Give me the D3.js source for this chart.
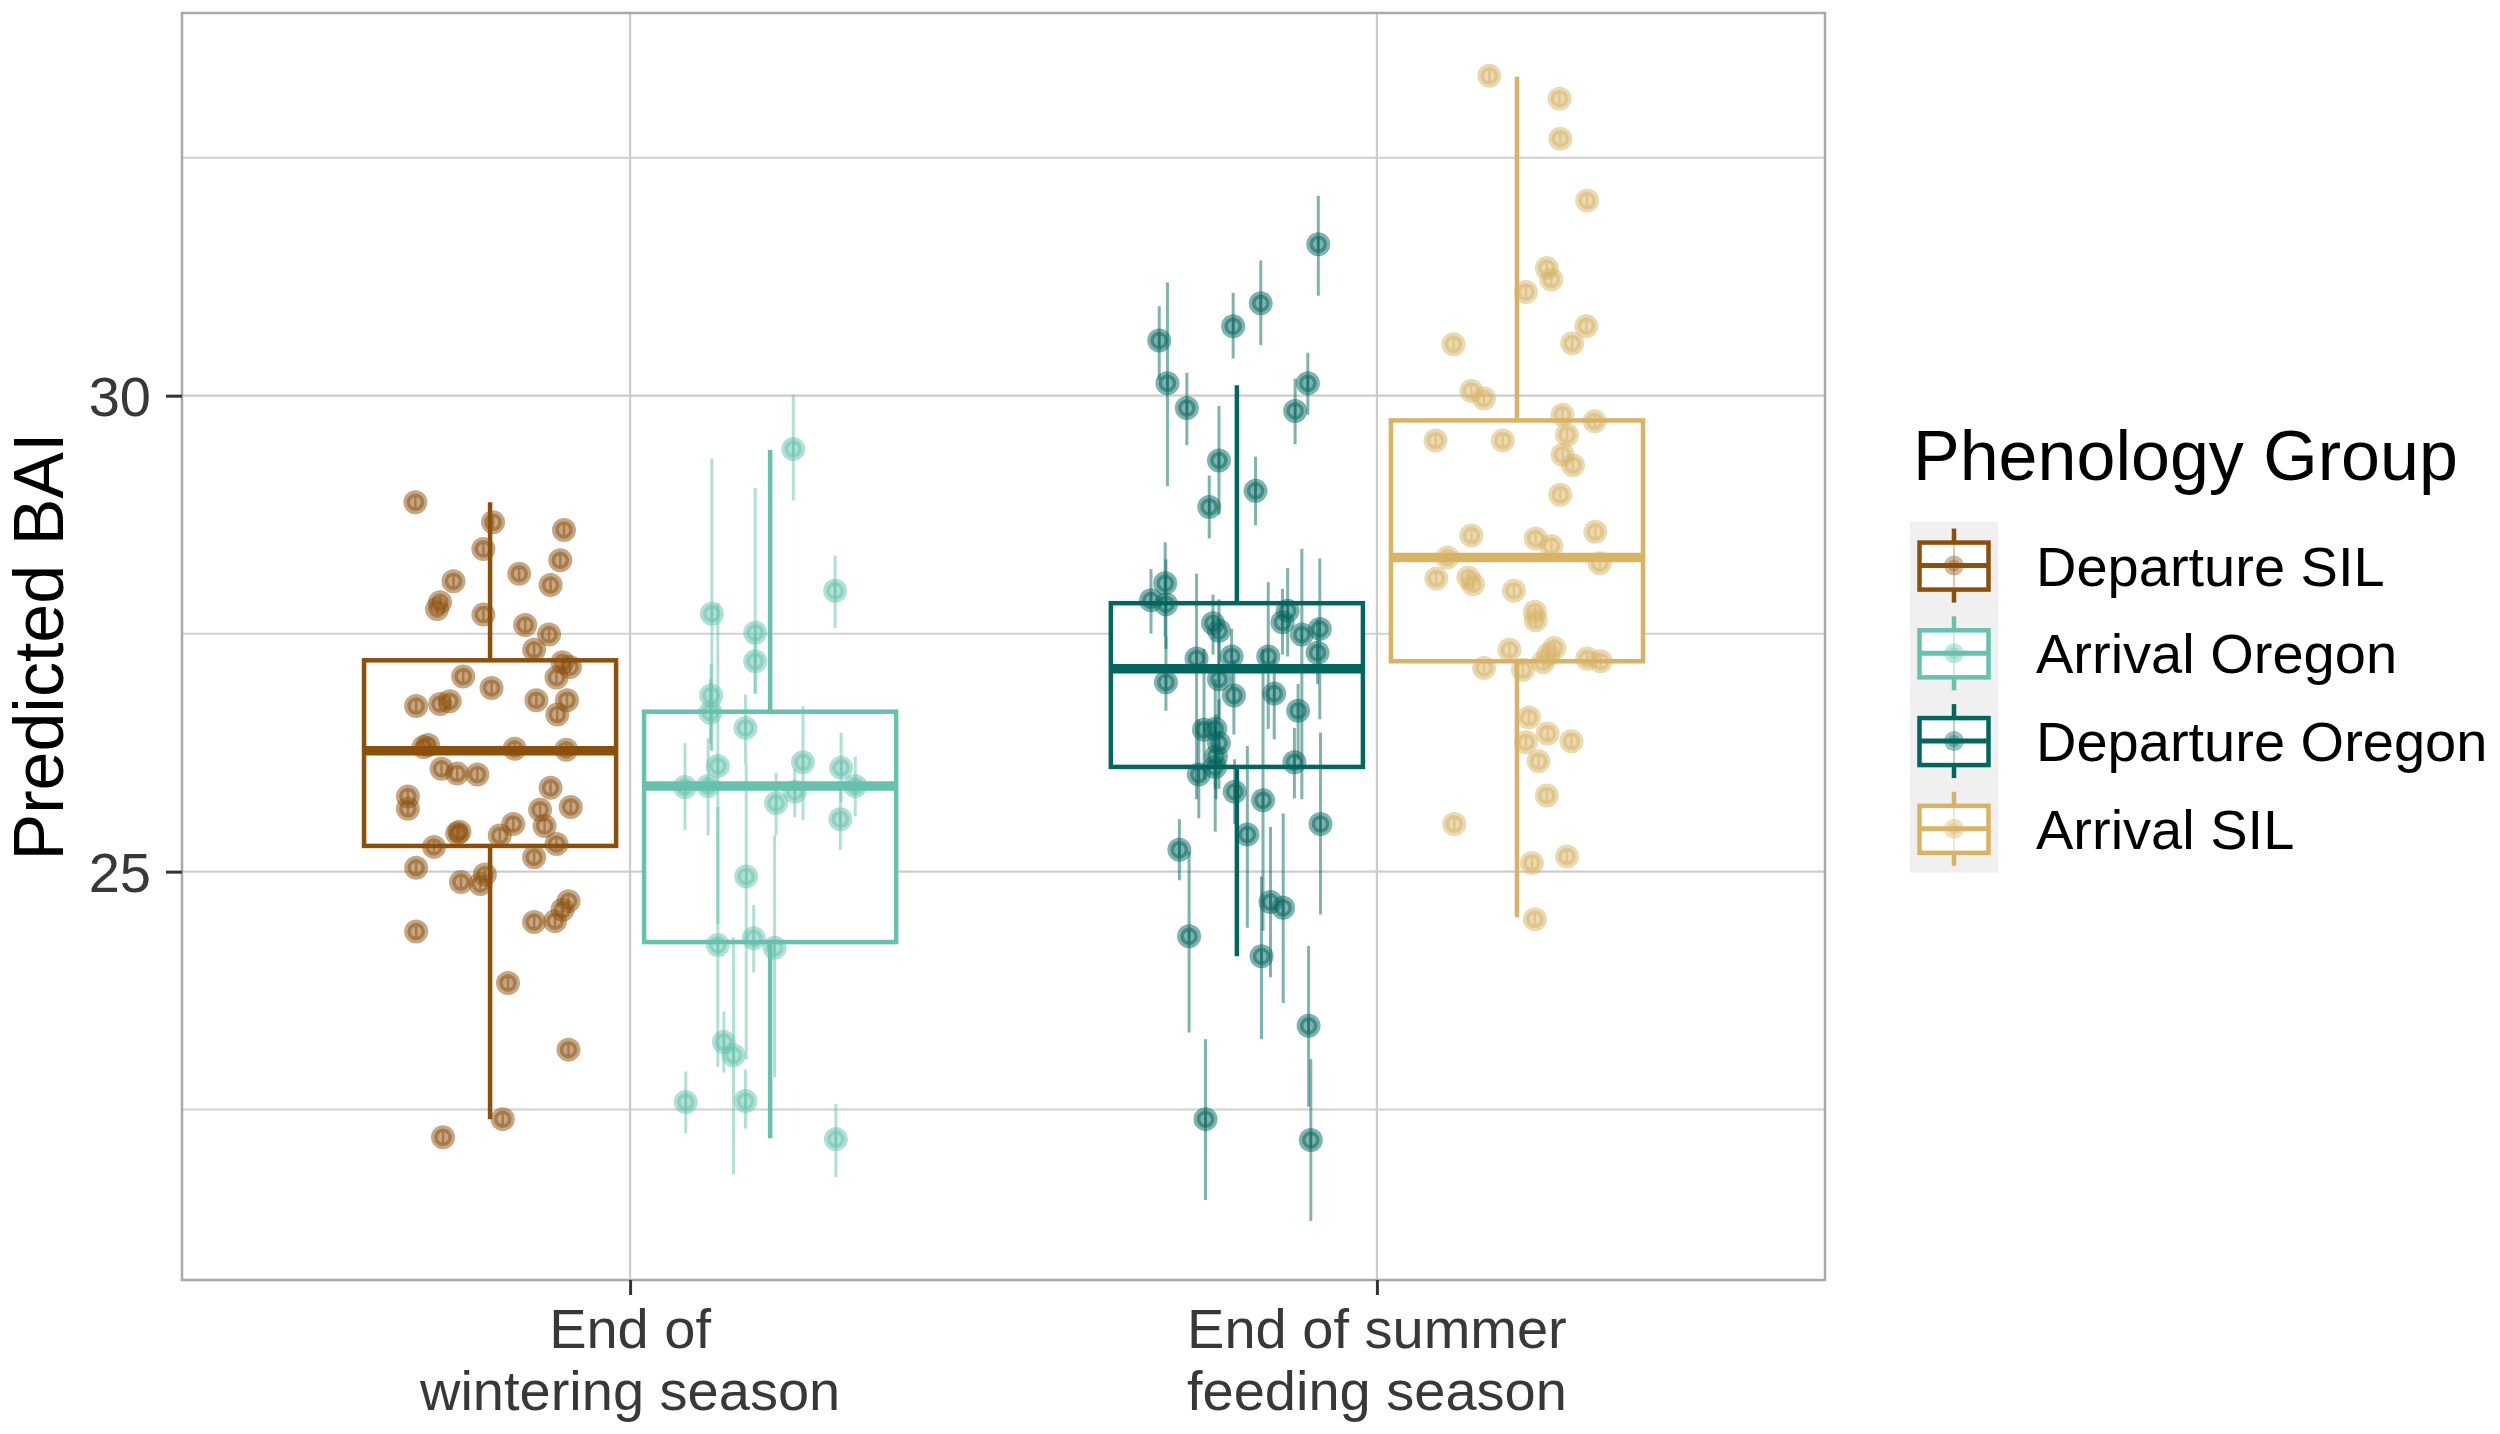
<!DOCTYPE html>
<html lang="en">
<head>
    <meta charset="UTF-8">
    <title>Predicted BAI by phenology group</title>
    <script src="https://d3js.org/d3.v7.min.js"></script>
    <style>
        body {
            margin: 0;
            background: #fff;
        }
        svg {
            font-family: "Liberation Sans", Arial, sans-serif;
        }
        .tick text {
            fill: #383838;
            font-size: 56px;
        }
        .tick line {
            stroke: #333;
            stroke-width: 3;
        }
    </style>
</head>
<body>
<div id="container"></div>
<script>

    // categories and groups
    const categories = ["wintering", "summer"];
    const categoryLabels = [["End of", "wintering season"], ["End of summer", "feeding season"]];
    const groups = ["Departure SIL", "Arrival Oregon", "Departure Oregon", "Arrival SIL"];
    const groupCategory = ["wintering", "wintering", "summer", "summer"];
    const groupSlot = [0, 1, 0, 1];
    const groupColors = ["#8c4f0c", "#66c2ae", "#01665e", "#d8b365"];

    // box statistics: lower whisker, Q1, median, Q3, upper whisker
    const boxLow = [22.40, 22.20, 24.11, 24.52];
    const boxQ1 = [25.27, 24.26, 26.10, 27.21];
    const boxMedian = [26.27, 25.90, 27.13, 28.30];
    const boxQ3 = [27.22, 26.68, 27.82, 29.74];
    const boxHigh = [28.88, 29.43, 30.11, 33.35];

    // Departure SIL points
    const depSilValues = [28.88,28.67,28.59,28.39,28.27,28.13,28.05,28.01,27.83,27.76,27.70,27.59,27.49,27.33,27.20,27.15,27.04,27.05,26.93,26.74,26.76,26.79,26.80,26.80,26.65,26.31,26.33,26.29,26.28,26.08,26.03,26.02,25.79,25.66,25.88,25.65,25.68,25.48,25.50,25.42,25.40,25.38,25.26,25.29,25.15,25.04,24.89,24.87,24.97,24.69,24.60,24.48,24.47,24.37,23.83,23.13,22.40,22.21];
    const depSilJitter = [-0.100,0.004,0.099,-0.009,0.094,0.039,-0.049,0.081,-0.067,-0.071,-0.009,0.047,0.079,0.059,0.097,0.107,0.089,-0.036,0.002,-0.099,-0.067,-0.054,0.062,0.103,0.090,-0.089,-0.083,0.033,0.102,-0.065,-0.044,-0.017,-0.110,-0.110,0.081,0.067,0.108,0.073,0.031,-0.041,-0.044,0.013,-0.075,0.089,0.059,-0.099,-0.039,-0.013,-0.007,0.105,0.097,0.087,0.059,-0.099,0.024,0.105,0.017,-0.063];

    // Arrival Oregon points with intervals
    const arrOrValues = [29.44,27.95,27.71,27.51,27.21,26.85,26.67,26.51,26.11,25.89,25.90,26.15,25.84,25.72,26.09,25.90,25.55,24.95,24.23,24.30,24.20,23.21,23.07,22.58,22.59,22.19];
    const arrOrLow = [28.90,27.56,26.27,26.87,26.87,26.27,26.34,26.13,24.45,25.44,25.38,25.54,25.57,25.38,25.73,25.58,25.23,23.03,22.95,23.94,22.84,22.89,21.82,22.25,22.30,21.79];
    const arrOrHigh = [30.01,28.32,29.34,29.03,27.49,27.18,27.02,26.86,27.82,26.35,26.40,26.74,26.08,26.04,26.46,26.21,25.89,26.13,25.68,24.65,25.38,23.53,24.31,22.90,22.92,22.56];
    const arrOrJitter = [0.031,0.087,-0.078,-0.020,-0.020,-0.079,-0.080,-0.033,-0.070,-0.114,-0.083,0.044,0.033,0.008,0.095,0.114,0.094,-0.032,-0.070,-0.022,0.006,-0.062,-0.049,-0.113,-0.033,0.088];

    // Departure Oregon points with intervals
    const depOrValues = [31.59,30.97,30.73,30.58,30.13,29.87,30.13,29.84,29.32,28.83,29.00,28.03,27.85,27.81,27.61,27.53,27.24,27.26,27.26,27.62,27.74,27.49,27.55,27.30,26.99,27.02,26.85,26.87,26.69,26.49,26.50,26.35,26.21,26.10,26.02,26.15,25.84,25.75,25.39,25.50,25.23,24.68,24.62,24.32,24.11,23.38,22.40,22.18];
    const depOrLow = [31.05,30.53,30.39,30.17,29.05,29.48,29.80,29.49,28.75,28.50,28.64,27.47,27.50,27.34,27.28,27.18,25.76,26.92,26.50,27.28,27.26,25.76,26.60,26.97,26.69,26.60,26.44,26.39,26.18,25.97,25.87,25.87,25.76,25.42,25.56,25.77,25.50,24.38,24.41,24.55,24.91,23.89,23.62,23.31,23.24,22.53,21.55,21.33];
    const depOrHigh = [32.10,31.42,31.08,30.94,31.19,30.24,30.45,30.18,29.89,29.16,29.36,28.46,28.18,28.28,27.91,27.86,28.13,27.55,28.04,27.97,28.19,28.39,28.29,27.65,27.47,27.44,27.23,27.23,26.97,27.34,27.02,26.81,26.65,26.60,26.60,26.51,26.18,27.34,26.32,26.46,25.55,25.47,25.61,25.21,24.95,24.22,23.24,23.03];
    const depOrJitter = [0.109,0.032,-0.005,-0.104,-0.093,-0.067,0.095,0.078,-0.024,-0.037,0.025,-0.096,-0.115,-0.095,-0.032,-0.024,-0.054,-0.007,0.042,0.061,0.068,0.087,0.111,0.108,-0.095,-0.024,-0.004,0.050,0.082,-0.044,-0.029,-0.024,-0.028,-0.029,-0.051,0.077,-0.003,0.035,0.014,0.112,-0.077,0.045,0.062,-0.064,0.033,0.096,-0.042,0.099];

    // Arrival SIL points
    const arrSilValues = [33.36,33.12,32.70,32.05,31.34,31.22,31.09,30.73,30.55,30.54,30.05,29.97,29.80,29.73,29.59,29.53,29.53,29.38,29.27,28.96,28.53,28.50,28.42,28.57,28.30,28.24,28.08,28.09,28.02,27.95,27.73,27.64,27.33,27.35,27.28,27.20,27.24,27.21,27.14,27.12,26.62,26.45,26.36,26.37,26.16,25.80,25.50,25.16,25.09,24.50];
    const arrSilJitter = [-0.037,0.057,0.058,0.094,0.040,0.046,0.012,0.093,0.074,-0.085,-0.061,-0.044,0.061,0.104,0.067,-0.109,-0.019,0.061,0.075,0.058,-0.061,0.025,0.046,0.105,-0.093,0.111,-0.108,-0.065,-0.059,-0.004,0.024,0.025,-0.010,0.050,0.042,0.035,0.094,0.112,-0.044,0.008,0.016,0.041,0.012,0.073,0.029,0.040,-0.084,0.067,0.020,0.024];

    // y axis ticks
    const yTicks = [25, 30];
    const yMinorTicks = [22.5, 27.5, 32.5];

    // point tables per group
    const pointSets = [
        depSilValues.map((v, i) => ({ g: 0, v: v, j: depSilJitter[i] })),
        arrOrValues.map((v, i) => ({ g: 1, v: v, j: arrOrJitter[i], lo: arrOrLow[i], hi: arrOrHigh[i] })),
        depOrValues.map((v, i) => ({ g: 2, v: v, j: depOrJitter[i], lo: depOrLow[i], hi: depOrHigh[i] })),
        arrSilValues.map((v, i) => ({ g: 3, v: v, j: arrSilJitter[i] }))
    ];

    const width = 2500, height = 1434;
    const panel = { left: 182, right: 1825, top: 13, bottom: 1280 };

    const svg = d3.select('#container').append('svg')
        .attr('width', width)
        .attr('height', height);

    const x = d3.scalePoint()
        .domain(categories)
        .range([panel.left, panel.right])
        .padding(0.6);

    const step = x.step();

    const dodge = d3.scaleBand()
        .domain([0, 1])
        .range([-0.375 * step, 0.375 * step])
        .paddingInner(0.1)
        .paddingOuter(0.05);

    const y = d3.scaleLinear()
        .domain([20.71, 34.02])
        .range([panel.bottom, panel.top]);

    const groupX = g => x(groupCategory[g]) + dodge(groupSlot[g]) + dodge.bandwidth() / 2;

    // grid lines
    svg.append('g').selectAll('line')
        .data(yMinorTicks)
        .enter()
        .append('line')
        .attr('x1', panel.left).attr('x2', panel.right)
        .attr('y1', d => y(d)).attr('y2', d => y(d))
        .attr('stroke', '#d0d0d0')
        .attr('stroke-width', 2);

    svg.append('g').selectAll('line')
        .data(yTicks)
        .enter()
        .append('line')
        .attr('x1', panel.left).attr('x2', panel.right)
        .attr('y1', d => y(d)).attr('y2', d => y(d))
        .attr('stroke', '#cccccc')
        .attr('stroke-width', 2.2);

    svg.append('g').selectAll('line')
        .data(categories)
        .enter()
        .append('line')
        .attr('x1', d => x(d)).attr('x2', d => x(d))
        .attr('y1', panel.top).attr('y2', panel.bottom)
        .attr('stroke', '#cccccc')
        .attr('stroke-width', 2.2);

    // boxplots
    const boxes = svg.append('g').selectAll('g')
        .data(groups)
        .enter()
        .append('g');

    boxes.append('line')
        .attr('x1', (d, i) => groupX(i)).attr('x2', (d, i) => groupX(i))
        .attr('y1', (d, i) => y(boxHigh[i])).attr('y2', (d, i) => y(boxLow[i]))
        .attr('stroke', (d, i) => groupColors[i])
        .attr('stroke-width', 4.5);

    boxes.append('rect')
        .attr('x', (d, i) => groupX(i) - dodge.bandwidth() / 2)
        .attr('width', dodge.bandwidth())
        .attr('y', (d, i) => y(boxQ3[i]))
        .attr('height', (d, i) => y(boxQ1[i]) - y(boxQ3[i]))
        .attr('fill', '#fff')
        .attr('stroke', (d, i) => groupColors[i])
        .attr('stroke-width', 4.5);

    boxes.append('line')
        .attr('x1', (d, i) => groupX(i) - dodge.bandwidth() / 2)
        .attr('x2', (d, i) => groupX(i) + dodge.bandwidth() / 2)
        .attr('y1', (d, i) => y(boxMedian[i])).attr('y2', (d, i) => y(boxMedian[i]))
        .attr('stroke', (d, i) => groupColors[i])
        .attr('stroke-width', 9.5);

    // draw one jittered point marker
    function drawMarker(sel, color) {
        sel.append('circle')
            .attr('r', 12)
            .attr('fill', color)
            .attr('fill-opacity', 0.5);
        sel.append('circle')
            .attr('r', 7)
            .attr('fill', 'none')
            .attr('stroke', color)
            .attr('stroke-opacity', 0.5)
            .attr('stroke-width', 3.5);
        sel.append('line')
            .attr('y1', -5.5).attr('y2', 5.5)
            .attr('stroke', color)
            .attr('stroke-opacity', 0.5)
            .attr('stroke-width', 2.5);
    }

    pointSets.forEach(set => {
        const layer = svg.append('g');
        const color = d => groupColors[d.g];

        // interval lines where available
        layer.selectAll('line.range')
            .data(set.filter(d => d.lo !== undefined))
            .enter()
            .append('line')
            .attr('class', 'range')
            .attr('x1', d => groupX(d.g) + d.j * step)
            .attr('x2', d => groupX(d.g) + d.j * step)
            .attr('y1', d => y(d.hi))
            .attr('y2', d => y(d.lo))
            .attr('stroke', color)
            .attr('stroke-opacity', 0.5)
            .attr('stroke-width', 3);

        layer.selectAll('g.pt')
            .data(set)
            .enter()
            .append('g')
            .attr('class', 'pt')
            .attr('transform', d => `translate(${groupX(d.g) + d.j * step},${y(d.v)})`)
            .each(function(d) { drawMarker(d3.select(this), groupColors[d.g]); });
    });

    // panel border
    svg.append('rect')
        .attr('x', panel.left).attr('y', panel.top)
        .attr('width', panel.right - panel.left)
        .attr('height', panel.bottom - panel.top)
        .attr('fill', 'none')
        .attr('stroke', '#a9a9a9')
        .attr('stroke-width', 2.5);

    // y axis
    const yAxis = svg.append('g')
        .attr('transform', `translate(${panel.left},0)`)
        .call(d3.axisLeft(y).tickValues(yTicks).tickSize(16).tickPadding(15));
    yAxis.select('.domain').remove();
    yAxis.selectAll('.tick text').attr('dy', '0.36em');

    // x axis
    const xAxis = svg.append('g')
        .attr('transform', `translate(0,${panel.bottom})`)
        .call(d3.axisBottom(x).tickSize(15).tickFormat(''));
    xAxis.select('.domain').remove();

    const xLabels = svg.append('g').selectAll('text')
        .data(categories)
        .enter()
        .append('text')
        .attr('text-anchor', 'middle')
        .attr('fill', '#383838')
        .attr('font-size', 56);

    xLabels.selectAll('tspan')
        .data((d, i) => categoryLabels[i].map(t => ({ t: t, c: d })))
        .enter()
        .append('tspan')
        .attr('x', d => x(d.c))
        .attr('y', (d, i) => 1348 + i * 62)
        .text(d => d.t);

    // y axis title
    svg.append('text')
        .attr('transform', `translate(63,${(panel.top + panel.bottom) / 2}) rotate(-90)`)
        .attr('text-anchor', 'middle')
        .attr('font-size', 70)
        .attr('fill', '#000')
        .text('Predicted BAI');

    // legend
    const legend = svg.append('g');
    const keyX = 1910, keyTop = 521.7, keyH = 87.75, keyW = 88;

    legend.append('text')
        .attr('x', 1913)
        .attr('y', 480)
        .attr('font-size', 70)
        .attr('fill', '#000')
        .text('Phenology Group');

    legend.append('rect')
        .attr('x', keyX).attr('y', keyTop)
        .attr('width', keyW).attr('height', keyH * groups.length)
        .attr('fill', '#f0f0f0');

    const keys = legend.selectAll('g.key')
        .data(groups)
        .enter()
        .append('g')
        .attr('class', 'key')
        .attr('transform', (d, i) => `translate(${keyX + keyW / 2},${keyTop + keyH * (i + 0.5)})`);

    keys.append('line')
        .attr('y1', -37).attr('y2', 37)
        .attr('stroke', (d, i) => groupColors[i])
        .attr('stroke-width', 4.5);

    keys.append('rect')
        .attr('x', -34.5).attr('width', 69)
        .attr('y', -23).attr('height', 47)
        .attr('fill', '#fff')
        .attr('stroke', (d, i) => groupColors[i])
        .attr('stroke-width', 4.5);

    keys.append('line')
        .attr('x1', -34.5).attr('x2', 34.5)
        .attr('stroke', (d, i) => groupColors[i])
        .attr('stroke-width', 5);

    keys.append('line')
        .attr('y1', -21).attr('y2', 22)
        .attr('stroke', (d, i) => groupColors[i])
        .attr('stroke-opacity', 0.3)
        .attr('stroke-width', 2);

    keys.append('circle')
        .attr('r', 10)
        .attr('fill', (d, i) => groupColors[i])
        .attr('fill-opacity', 0.4);

    keys.append('circle')
        .attr('r', 6)
        .attr('fill', (d, i) => groupColors[i])
        .attr('fill-opacity', 0.3);

    keys.append('text')
        .attr('x', 2036 - (keyX + keyW / 2))
        .attr('y', 20)
        .attr('font-size', 56)
        .attr('fill', '#000')
        .text(d => d);

</script>
</body>
</html>
